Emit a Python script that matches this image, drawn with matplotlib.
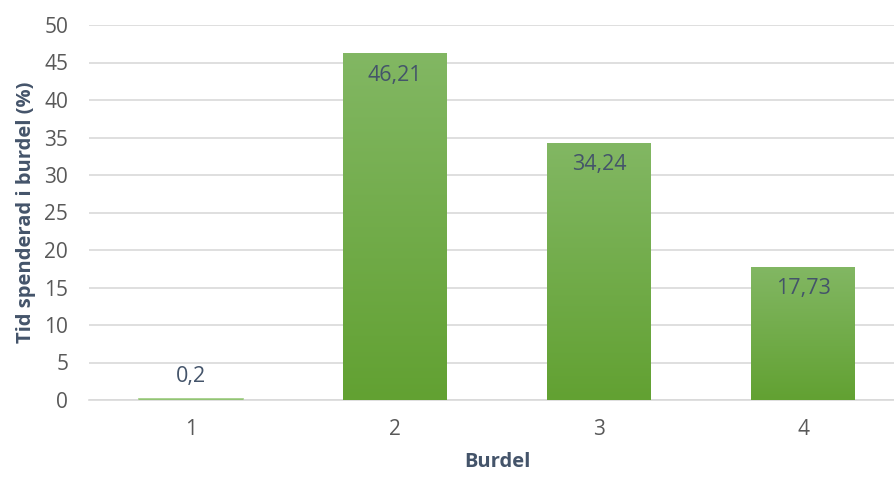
import matplotlib
matplotlib.use("Agg")
import matplotlib.pyplot as plt
import numpy as np
from matplotlib.colors import LinearSegmentedColormap

categories = ["1", "2", "3", "4"]
values = [0.2, 46.21, 34.24, 17.73]
labels = ["0,2", "46,21", "34,24", "17,73"]
yticks = [0, 5, 10, 15, 20, 25, 30, 35, 40, 45, 50]

plt.rcParams['font.family'] = ['Open Sans', 'DejaVu Sans']

W, H = 894, 478
fig = plt.figure(figsize=(W/100, H/100), dpi=100)
left, right = 89, 905
top, bottom = 25, 400
ax = fig.add_axes([left/W, 1 - bottom/H, (right-left)/W, (bottom-top)/H])

x = np.arange(len(categories))
bars = ax.bar(x, values, width=0.505, color="none", zorder=3)
cmap = LinearSegmentedColormap.from_list("g", ["#62a132", "#82b763"])
grad = np.linspace(0, 1, 256).reshape(-1, 1)
for b in bars:
    x0, w, h = b.get_x(), b.get_width(), b.get_height()
    im = ax.imshow(grad, cmap=cmap, origin="lower", aspect="auto",
                   extent=[x0, x0 + w, 0, h], zorder=3, alpha=1.0)
    im.set_clip_path(b)
    if h < 1:
        ax.plot([x0, x0 + w], [h, h], color="#9ccb7f", linewidth=1.2, zorder=4)

ax.set_xlim(-0.5, len(categories) - 0.5)
ax.set_ylim(0, 50)
ax.set_yticks(yticks)
ax.set_xticks(x)
ax.set_xticklabels(categories)
ax.grid(axis="y", color="#d9d9d9", linewidth=1.2, zorder=0)
ax.set_axisbelow(True)
for s in ["top", "right", "left"]:
    ax.spines[s].set_visible(False)
ax.spines["bottom"].set_color("#d9d9d9")
ax.spines["bottom"].set_linewidth(1.2)
ax.tick_params(axis="both", length=0, labelsize=15, colors="#595959")
ax.tick_params(axis="x", pad=14)
ax.tick_params(axis="y", pad=15)

for xi, v, lab in zip(x, values, labels):
    if v < 3:
        ax.annotate(lab, (xi, v), xytext=(0, 8), textcoords="offset points",
                    ha="center", va="bottom", fontsize=15.5, color="#44546a", zorder=5)
    else:
        ax.annotate(lab, (xi, v), xytext=(0, -8), textcoords="offset points",
                    ha="center", va="top", fontsize=15.5, color="#44546a", zorder=5)

ax.set_ylabel("Tid spenderad i burdel (%)", fontsize=14.5, fontweight="bold",
              color="#44546a", labelpad=6)
ax.set_xlabel("Burdel", fontsize=14.5, fontweight="bold", color="#44546a", labelpad=8)

fig.savefig("out.png", dpi=100)
